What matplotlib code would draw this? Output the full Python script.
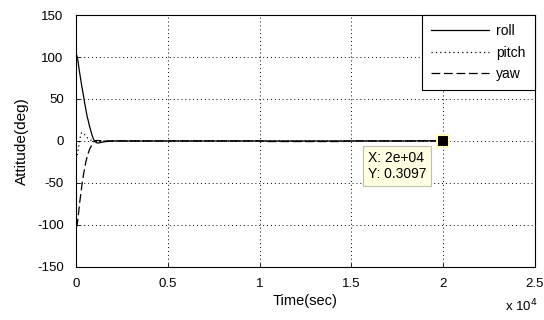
import matplotlib
matplotlib.use("Agg")
import matplotlib.pyplot as plt

plt.rcParams['font.family'] = ['Liberation Sans', 'DejaVu Sans']
plt.rcParams['axes.unicode_minus'] = False

t = [0, 50, 100, 150, 200, 250, 300, 350, 400, 450, 500, 550, 600, 650, 700,
     750, 800, 850, 900, 950, 1000, 1100, 1200, 1300, 1400, 1600, 1800, 2000,
     3000, 5000, 8000, 10000, 10500, 14500, 15000, 18000, 20000]
roll = [103, 101, 95, 87, 80, 73, 66, 60, 54, 47, 41, 35, 29, 25, 20,
        16, 12, 8, 5, 2, 0, -2, -2.5, -2, -1.5, -0.8, -0.3, 0,
        0, 0, 0, 0, 0, 0, 0, 0, 0.3097]
pitch = [-22, -18, -12, -5, 2, 7, 10, 10, 9, 8, 6, 5, 4, 3, 2,
         1.5, 1, 0.5, 0.3, 0.1, 0, 0, 0, 0, 0, 0, 0, 0,
         0, 0, 0, 0, 0, 0, 0, 0, 0]
yaw = [-103, -100, -92, -82, -72, -64, -55, -47, -40, -34, -28, -23, -19, -15, -12,
       -9, -7, -5, -3, -1.5, 0, 0.5, 0.5, 0.3, 0.2, 0, 0, 0,
       0, 0, 0, 0, -0.7, -0.7, 0, 0, 0]

tip_x, tip_y = 20000, 0.3097

xticks = [0, 5000, 10000, 15000, 20000, 25000]
xticklabels = ['0', '0.5', '1', '1.5', '2', '2.5']
yticks = [-150, -100, -50, 0, 50, 100, 150]

fig = plt.figure(figsize=(5.44, 3.2), dpi=100)
ax = fig.add_axes([0.140, 0.166, 0.843, 0.787])

ax.plot(t, roll, color='black', lw=0.9, ls='-', label='roll')
ax.plot(t, pitch, color='black', lw=0.9, ls=(0, (1, 2.5)), label='pitch')
ax.plot(t, yaw, color='black', lw=0.9, ls=(0, (7, 3)), label='yaw')

ax.set_xlim(0, 25000)
ax.set_ylim(-150, 150)
ax.set_xticks(xticks)
ax.set_xticklabels(xticklabels)
ax.set_yticks(yticks)
ax.tick_params(direction='in', length=3, labelsize=9.5, width=0.6)
ax.tick_params(axis='x', pad=8)
ax.tick_params(axis='y', pad=9)
ax.grid(True, color='black', ls=(0, (1, 3)), lw=0.7)
for s in ax.spines.values():
    s.set_linewidth(0.8)

ax.set_xlabel('Time(sec)', fontsize=10.5, labelpad=3)
ax.set_ylabel('Attitude(deg)', fontsize=11, labelpad=6)
fig.text(0.928, 0.018, r'x 10$^{4}$', fontsize=9.5, ha='left', va='bottom')

leg = ax.legend(loc='upper right', fontsize=10, frameon=True, fancybox=False,
                edgecolor='black', framealpha=1, handlelength=4.2,
                handletextpad=0.5, borderaxespad=0, borderpad=0.65,
                labelspacing=0.55)
leg.get_frame().set_linewidth(0.8)

ax.plot([tip_x], [tip_y], marker='s', ms=8, mfc='black', mec='#ffffbb',
        mew=1.5, zorder=5)
ax.annotate('X: 2e+04\nY: 0.3097', xy=(tip_x, tip_y), xytext=(15900, -12),
            fontsize=10, ha='left', va='top', linespacing=1.15,
            bbox=dict(boxstyle='square,pad=0.35', fc='#ffffe1', ec='#c0c0b0', lw=0.8),
            zorder=6)

fig.savefig('out.png', dpi=100)
